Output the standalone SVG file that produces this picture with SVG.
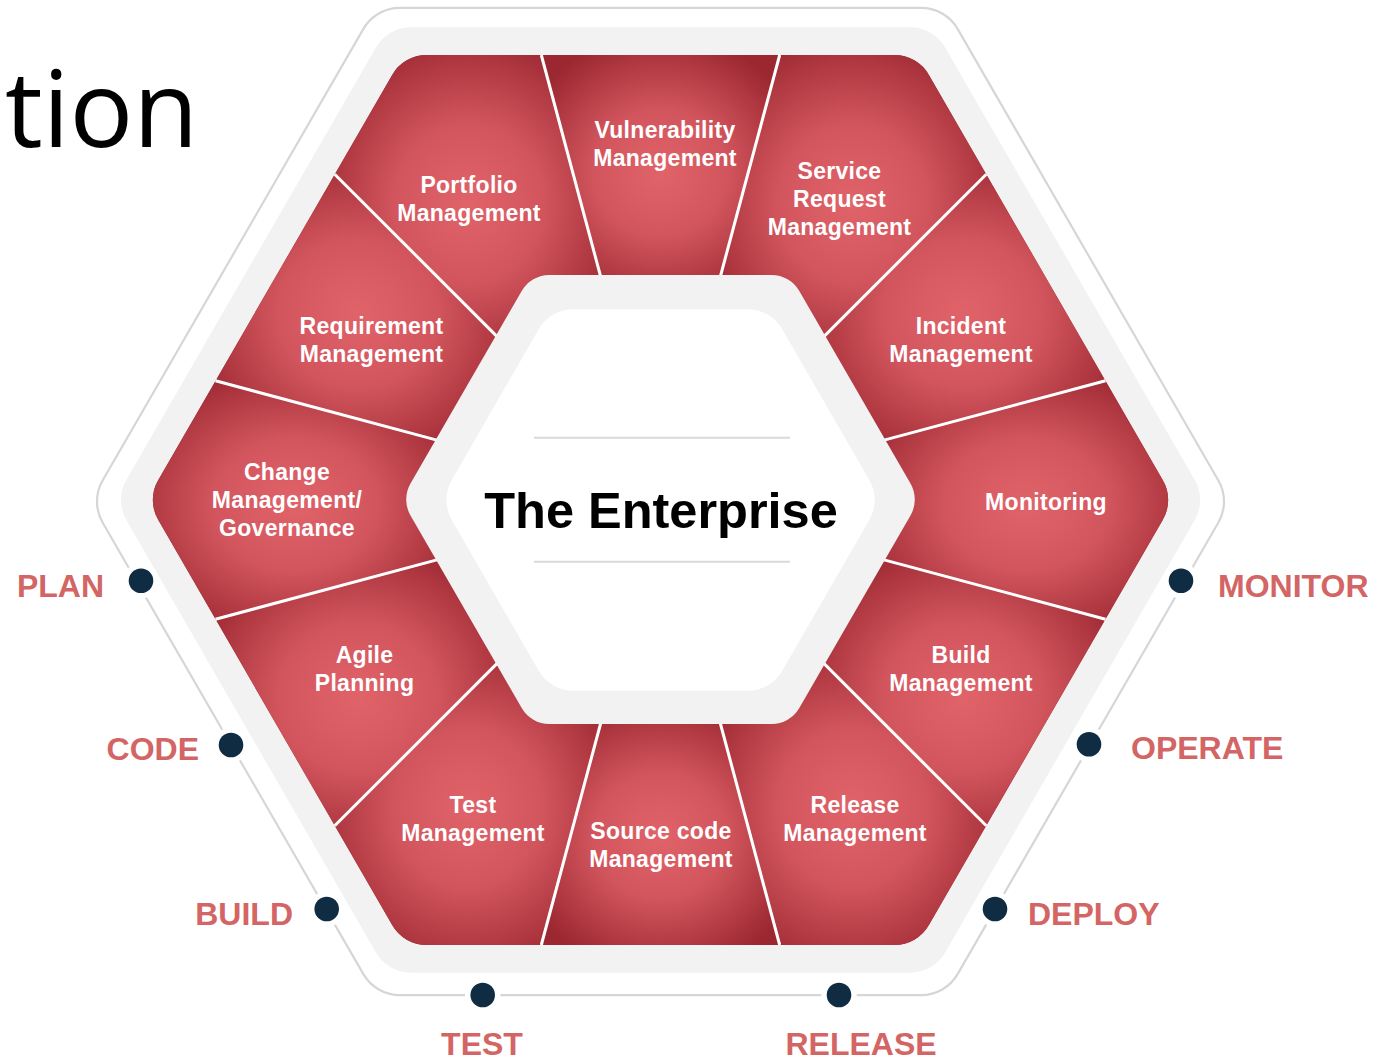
<svg xmlns="http://www.w3.org/2000/svg" width="1373" height="1056" viewBox="0 0 1373 1056">
<defs>
<radialGradient id="segGrad" cx="0.5" cy="0.52" r="0.62">
<stop offset="0" stop-color="#e1636a"/>
<stop offset="0.45" stop-color="#d2555d"/>
<stop offset="1" stop-color="#9b2731"/>
</radialGradient>
<clipPath id="redClip">
<path d="M1162.8,520 L929.0,925 A40,40 0 0 1 894.3,945 L426.7,945 A40,40 0 0 1 392.1,925 L158.2,520 A40,40 0 0 1 158.2,480 L392.1,75 A40,40 0 0 1 426.7,55 L894.3,55 A40,40 0 0 1 929.0,75 L1162.8,480 A40,40 0 0 1 1162.8,520 Z"/>
</clipPath>
</defs>
<style>
.seg { fill: url(#segGrad); clip-path: url(#redClip); }
.lbl { font-family: "Liberation Sans", Arial, sans-serif; font-weight: bold; font-size: 23px; fill: #ffffff; text-anchor: middle; letter-spacing: 0.3px; }
.phase { font-family: "Liberation Sans", Arial, sans-serif; font-weight: bold; font-size: 32px; fill: #d36565; }
.dot { fill: #102c42; stroke: #ffffff; stroke-width: 11; paint-order: stroke; }
.divider { stroke: #ffffff; stroke-width: 3; fill: none; }
.light { fill: #f2f2f2; }
</style>
<rect width="1373" height="1056" fill="#ffffff"/>

<g id="cycle-outline">
<path d="M1218.4,522.5 L957.6,974.1 A42,42 0 0 1 921.3,995.1 L399.8,995.1 A42,42 0 0 1 363.4,974.1 L102.6,522.5 A42,42 0 0 1 102.6,480.5 L363.4,28.9 A42,42 0 0 1 399.8,7.9 L921.3,7.9 A42,42 0 0 1 957.6,28.9 L1218.4,480.5 A42,42 0 0 1 1218.4,522.5 Z" fill="none" stroke="#d6d6d6" stroke-width="2.2"/>
</g>

<g id="outer-band">
<path class="light" d="M1194.8,520 L945.0,952.7 A40,40 0 0 1 910.3,972.7 L410.7,972.7 A40,40 0 0 1 376.1,952.7 L126.3,520 A40,40 0 0 1 126.3,480 L376.1,47.3 A40,40 0 0 1 410.7,27.3 L910.3,27.3 A40,40 0 0 1 945.0,47.3 L1194.8,480 A40,40 0 0 1 1194.8,520 Z"/>
<path fill="#a83640" d="M1162.8,520 L929.0,925 A40,40 0 0 1 894.3,945 L426.7,945 A40,40 0 0 1 392.1,925 L158.2,520 A40,40 0 0 1 158.2,480 L392.1,75 A40,40 0 0 1 426.7,55 L894.3,55 A40,40 0 0 1 929.0,75 L1162.8,480 A40,40 0 0 1 1162.8,520 Z"/>
</g>

<g id="monitoring">
<path class="seg" d="M878.5,441.6 L1105.5,380.8 L1174.3,500 L1105.5,619.2 L878.5,558.4 Z"/>
<text class="lbl" x="1046" y="510">Monitoring</text>
</g>
<g id="build-management">
<path class="seg" d="M878.5,558.4 L1105.5,619.2 L986.3,825.8 L820.1,659.6 Z"/>
<text class="lbl" x="961" y="663">Build</text>
<text class="lbl" x="961" y="691">Management</text>
</g>
<g id="release-management">
<path class="seg" d="M820.1,659.6 L986.3,825.8 L917.4,945 L779.7,945 L718.9,718 Z"/>
<text class="lbl" x="855" y="813">Release</text>
<text class="lbl" x="855" y="841">Management</text>
</g>
<g id="source-code-management">
<path class="seg" d="M718.9,718 L779.7,945 L541.3,945 L602.1,718 Z"/>
<text class="lbl" x="661" y="839">Source code</text>
<text class="lbl" x="661" y="867">Management</text>
</g>
<g id="test-management">
<path class="seg" d="M602.1,718 L541.3,945 L403.6,945 L334.7,825.8 L500.9,659.6 Z"/>
<text class="lbl" x="473" y="813">Test</text>
<text class="lbl" x="473" y="841">Management</text>
</g>
<g id="agile-planning">
<path class="seg" d="M500.9,659.6 L334.7,825.8 L215.5,619.2 L442.5,558.4 Z"/>
<text class="lbl" x="364.5" y="663">Agile</text>
<text class="lbl" x="364.5" y="691">Planning</text>
</g>
<g id="change-management">
<path class="seg" d="M442.5,558.4 L215.5,619.2 L146.7,500 L215.5,380.8 L442.5,441.6 Z"/>
<text class="lbl" x="287" y="480">Change</text>
<text class="lbl" x="287" y="508">Management/</text>
<text class="lbl" x="287" y="536">Governance</text>
</g>
<g id="requirement-management">
<path class="seg" d="M442.5,441.6 L215.5,380.8 L334.7,174.2 L500.9,340.4 Z"/>
<text class="lbl" x="371.5" y="334">Requirement</text>
<text class="lbl" x="371.5" y="362">Management</text>
</g>
<g id="portfolio-management">
<path class="seg" d="M500.9,340.4 L334.7,174.2 L403.6,55 L541.3,55 L602.1,282 Z"/>
<text class="lbl" x="469" y="193">Portfolio</text>
<text class="lbl" x="469" y="221">Management</text>
</g>
<g id="vulnerability-management">
<path class="seg" d="M602.1,282 L541.3,55 L779.7,55 L718.9,282 Z"/>
<text class="lbl" x="665" y="138">Vulnerability</text>
<text class="lbl" x="665" y="166">Management</text>
</g>
<g id="service-request-management">
<path class="seg" d="M718.9,282 L779.7,55 L917.4,55 L986.3,174.2 L820.1,340.4 Z"/>
<text class="lbl" x="839.5" y="179">Service</text>
<text class="lbl" x="839.5" y="207">Request</text>
<text class="lbl" x="839.5" y="235">Management</text>
</g>
<g id="incident-management">
<path class="seg" d="M820.1,340.4 L986.3,174.2 L1105.5,380.8 L878.5,441.6 Z"/>
<text class="lbl" x="961" y="334">Incident</text>
<text class="lbl" x="961" y="362">Management</text>
</g>

<g id="dividers">
<line class="divider" x1="878.5" y1="558.4" x2="1105.5" y2="619.2"/>
<line class="divider" x1="820.1" y1="659.6" x2="986.3" y2="825.8"/>
<line class="divider" x1="718.9" y1="718" x2="779.7" y2="945"/>
<line class="divider" x1="602.1" y1="718" x2="541.3" y2="945"/>
<line class="divider" x1="500.9" y1="659.6" x2="334.7" y2="825.8"/>
<line class="divider" x1="442.5" y1="558.4" x2="215.5" y2="619.2"/>
<line class="divider" x1="442.5" y1="441.6" x2="215.5" y2="380.8"/>
<line class="divider" x1="500.9" y1="340.4" x2="334.7" y2="174.2"/>
<line class="divider" x1="602.1" y1="282" x2="541.3" y2="55"/>
<line class="divider" x1="718.9" y1="282" x2="779.7" y2="55"/>
<line class="divider" x1="820.1" y1="340.4" x2="986.3" y2="174.2"/>
<line class="divider" x1="878.5" y1="441.6" x2="1105.5" y2="380.8"/>
</g>

<g id="the-enterprise">
<path class="light" d="M910.5,515.5 L799.3,708 A32,32 0 0 1 771.6,724 L549.4,724 A32,32 0 0 1 521.7,708 L410.5,515.5 A32,32 0 0 1 410.5,483.5 L521.7,291 A32,32 0 0 1 549.4,275 L771.6,275 A32,32 0 0 1 799.3,291 L910.5,483.5 A32,32 0 0 1 910.5,515.5 Z"/>
<path fill="#ffffff" d="M869.3,520 L782.2,670.8 A40,40 0 0 1 747.6,690.8 L573.4,690.8 A40,40 0 0 1 538.8,670.8 L451.8,520 A40,40 0 0 1 451.8,480 L538.8,329.2 A40,40 0 0 1 573.4,309.2 L747.6,309.2 A40,40 0 0 1 782.2,329.2 L869.3,480 A40,40 0 0 1 869.3,520 Z"/>
<line x1="534" y1="437.7" x2="790" y2="437.7" stroke="#d9d9d9" stroke-width="2"/>
<line x1="534" y1="561.7" x2="790" y2="561.7" stroke="#d9d9d9" stroke-width="2"/>
<text x="661" y="528" font-family="Liberation Sans, Arial, sans-serif" font-weight="bold" font-size="50.5" fill="#000000" text-anchor="middle">The Enterprise</text>
</g>

<g id="phases">
<circle class="dot" cx="141" cy="580.7" r="12.3"/>
<text class="phase" x="104" y="597" text-anchor="end">PLAN</text>
<circle class="dot" cx="231" cy="745" r="12.3"/>
<text class="phase" x="199" y="760" text-anchor="end">CODE</text>
<circle class="dot" cx="326.7" cy="909" r="12.3"/>
<text class="phase" x="293" y="925" text-anchor="end">BUILD</text>
<circle class="dot" cx="482.7" cy="995" r="12.3"/>
<text class="phase" x="482" y="1055" text-anchor="middle">TEST</text>
<circle class="dot" cx="839" cy="995" r="12.3"/>
<text class="phase" x="861" y="1055" text-anchor="middle">RELEASE</text>
<circle class="dot" cx="995" cy="909" r="12.3"/>
<text class="phase" x="1028" y="925">DEPLOY</text>
<circle class="dot" cx="1089" cy="744.3" r="12.3"/>
<text class="phase" x="1131" y="759">OPERATE</text>
<circle class="dot" cx="1181" cy="580.7" r="12.3"/>
<text class="phase" x="1218" y="597">MONITOR</text>
</g>

<text x="5" y="146.7" font-family="Open Sans, Liberation Sans, sans-serif" font-size="106" fill="#000000">tion</text>
</svg>
